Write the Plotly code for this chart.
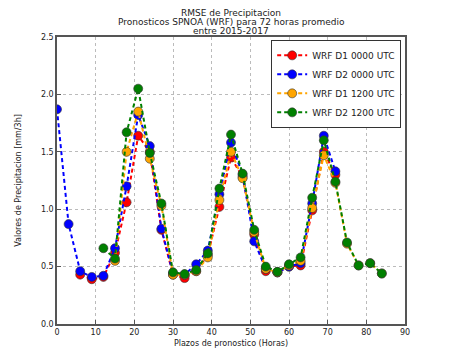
import plotly.graph_objects as go

hours_red = [6, 9, 12, 15, 18, 21, 24, 27, 30, 33, 36, 39, 42, 45, 48, 51, 54, 57, 60, 63, 66, 69, 72]
vals_red = [0.43, 0.39, 0.41, 0.62, 1.06, 1.64, 1.50, 0.82, 0.43, 0.40, 0.46, 0.60, 1.02, 1.45, 1.28, 0.78, 0.46, 0.45, 0.50, 0.51, 0.99, 1.50, 1.30]

hours_blue = [0, 3, 6, 9, 12, 15, 18, 21, 24, 27, 30, 33, 36, 39, 42, 45, 48, 51, 54, 57, 60, 63, 66, 69, 72]
vals_blue = [1.87, 0.87, 0.46, 0.41, 0.42, 0.66, 1.20, 1.82, 1.55, 0.83, 0.44, 0.43, 0.52, 0.64, 1.13, 1.58, 1.30, 0.72, 0.48, 0.45, 0.50, 0.53, 1.05, 1.64, 1.33]

hours_orange = [15, 18, 21, 24, 27, 30, 33, 36, 39, 42, 45, 48, 51, 54, 57, 60, 63, 66, 69, 72, 75, 78, 81, 84]
vals_orange = [0.55, 1.50, 1.85, 1.44, 1.03, 0.43, 0.43, 0.46, 0.58, 1.08, 1.50, 1.27, 0.80, 0.48, 0.45, 0.51, 0.55, 1.01, 1.47, 1.23, 0.70, 0.51, 0.53, 0.44]

hours_green = [12, 15, 18, 21, 24, 27, 30, 33, 36, 39, 42, 45, 48, 51, 54, 57, 60, 63, 66, 69, 72, 75, 78, 81, 84]
vals_green = [0.66, 0.57, 1.67, 2.05, 1.49, 1.05, 0.45, 0.435, 0.47, 0.615, 1.18, 1.65, 1.31, 0.82, 0.50, 0.455, 0.52, 0.58, 1.10, 1.60, 1.24, 0.71, 0.51, 0.53, 0.44]

series = [
    ("WRF D1 0000 UTC", hours_red, vals_red, "red"),
    ("WRF D2 0000 UTC", hours_blue, vals_blue, "blue"),
    ("WRF D1 1200 UTC", hours_orange, vals_orange, "orange"),
    ("WRF D2 1200 UTC", hours_green, vals_green, "green"),
]

title_lines = ["RMSE de Precipitacion",
               "Pronosticos SPNOA (WRF) para 72 horas promedio",
               "entre 2015-2017"]

fig = go.Figure()
for name, xs, ys, col in series:
    fig.add_trace(go.Scatter(
        x=xs, y=ys, name=name, mode="lines+markers",
        line=dict(color=col, width=2, dash="4px,3px"),
        marker=dict(color=col, size=9, line=dict(color="#333333", width=0.6)),
    ))

font = "DejaVu Sans"
T = 28.5
fig.update_layout(
    width=442, height=352,
    margin=dict(l=49, r=45, t=T, b=36, autoexpand=False),
    paper_bgcolor="white", plot_bgcolor="white",
    font=dict(family=font, size=8, color="#222222"),
    showlegend=True,
    legend=dict(
        x=0.989, xanchor="right", y=0.99, yanchor="top",
        bordercolor="#333333", borderwidth=1, bgcolor="white",
        font=dict(family=font, size=9, color="#222222"),
        itemwidth=30, tracegroupgap=0,
    ),
)
for i, line in enumerate(title_lines):
    fig.add_annotation(
        text=line, xref="paper", yref="paper", x=0.5, y=1,
        xanchor="center", yanchor="middle", showarrow=False,
        yshift=T - (4.0 + 9.2 * i),
        font=dict(family=font, size=9, color="#222222"),
    )
fig.update_xaxes(
    range=[0, 90], dtick=10, tick0=0, automargin=False,
    showgrid=True, gridcolor="#bbbbbb", griddash="dot", gridwidth=1,
    showline=True, linecolor="#555555", linewidth=1.5, mirror=True,
    ticks="inside", ticklen=4, tickcolor="#555555",
    zeroline=False,
    title=dict(text="Plazos de pronostico (Horas)", font=dict(family=font, size=8), standoff=4),
)
fig.update_yaxes(
    range=[0, 2.5], dtick=0.5, tick0=0, tickformat=".1f", automargin=False,
    showgrid=True, gridcolor="#bbbbbb", griddash="dot", gridwidth=1,
    showline=True, linecolor="#555555", linewidth=1.5, mirror=True,
    ticks="inside", ticklen=4, tickcolor="#555555",
    zeroline=False,
    title=dict(text="Valores de Precipitacion [mm/3h]", font=dict(family=font, size=8), standoff=18),
)

fig.write_html("out.html")
